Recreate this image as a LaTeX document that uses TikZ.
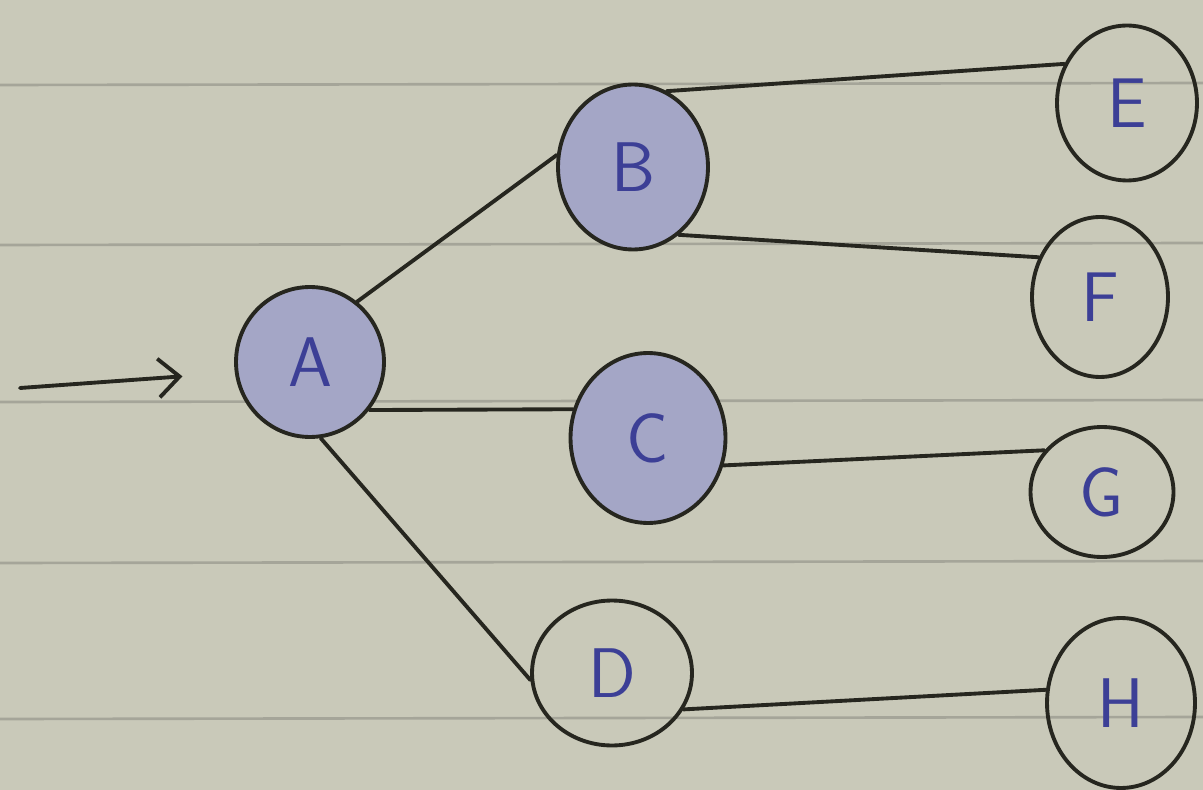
\documentclass[tikz,border=0pt]{standalone}
\usepackage{tikz}
\usetikzlibrary{arrows.meta,shapes.geometric}
\definecolor{paper}{HTML}{C9C9B9}
\definecolor{rule}{HTML}{8E8E84}
\definecolor{pen}{HTML}{26261F}
\definecolor{biro}{HTML}{3C3F96}
\definecolor{shade}{HTML}{A4A6C6}
\tikzset{fig/.style={line join=round,line cap=round,>={Straight Barb[length=12pt,width=22pt]}},
  vtx/.style={draw=pen,line width=2.2pt,ellipse,inner sep=0pt,text=biro,font=\sffamily\fontsize{40}{40}\selectfont},
  seen/.style={vtx,fill=shade},
  edge/.style={pen,line width=2.2pt}}
\begin{document}
\begin{tikzpicture}[fig,x=0.02cm,y=-0.02cm]
  \fill[paper](0,0)rectangle(1203,790);
  \useasboundingbox(0,0)rectangle(1203,790);
  \foreach \y in {85,245,402,563,719}\draw[rule,line width=1.5pt,opacity=0.6](0,\y)--(1203,\y-2);
  % vertices
  \node[seen,minimum width=2.96cm,minimum height=3.0cm](A)at(310,362){A};
  \node[seen,minimum width=3.0cm,minimum height=3.3cm](B)at(633,167){B};
  \node[seen,minimum width=3.1cm,minimum height=3.4cm](C)at(648,438){C};
  \node[vtx,minimum width=3.2cm,minimum height=2.9cm](D)at(612,673){D};
  \node[vtx,minimum width=2.8cm,minimum height=3.1cm](E)at(1127,103){E};
  \node[vtx,minimum width=2.72cm,minimum height=3.2cm](F)at(1100,297){F};
  \node[vtx,minimum width=2.86cm,minimum height=2.6cm](G)at(1102,492){G};
  \node[vtx,minimum width=2.96cm,minimum height=3.4cm](H)at(1121,703){H};
  % edges
  \draw[edge](A.52)--(B.171);
  \draw[edge](A.-39)--(C.159);
  \draw[edge](A.-82)--(D.185);
  \draw[edge](B.66)--(E.148);
  \draw[edge](B.-56)--(F.147);
  \draw[edge](C.-20)--(G.144);
  \draw[edge](D.-27)--(H.170);
  % start
  \coordinate(entry)at(20,388);
  \draw[edge,->,shorten >=1.05cm](entry)--(A.188);
\end{tikzpicture}
\end{document}
